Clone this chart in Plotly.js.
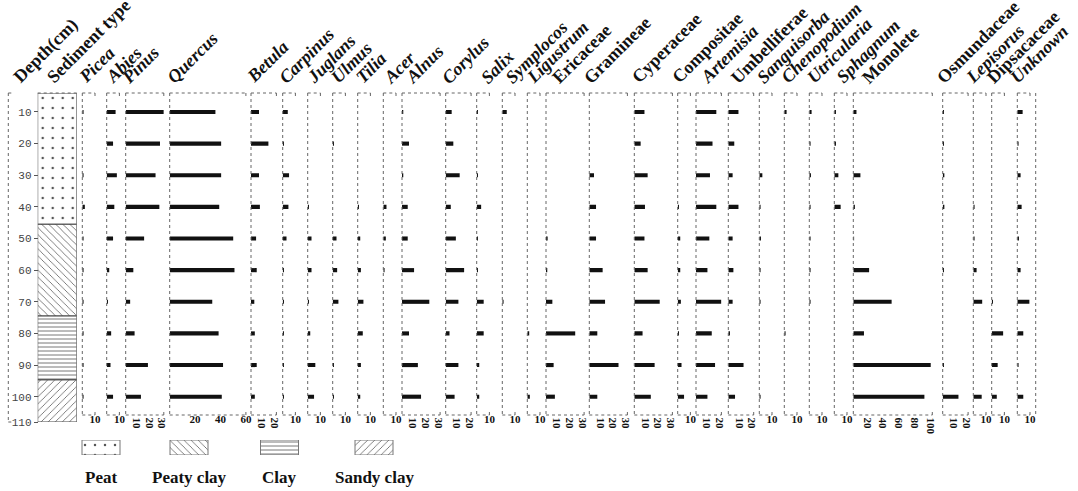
<!DOCTYPE html>
<html>
<head>
<meta charset="utf-8">
<script src="https://cdn.plot.ly/plotly-3.0.1.min.js"></script>
<style>html,body{margin:0;padding:0;background:#fff;}#chart{width:1078px;height:491px;}</style>
</head>
<body>
<div id="chart"></div>
<script>
// ---------------- DATA ----------------
const depths = [10, 20, 30, 40, 50, 60, 70, 80, 90, 100];
const depthTickVals = [10, 20, 30, 40, 50, 60, 70, 80, 90, 100, 108];
const depthTickText = ["10", "20", "30", "40", "50", "60", "70", "80", "90", "100", "110"];

const taxa = ["Picea", "Abies", "Pinus", "Quercus", "Betula", "Carpinus", "Juglans", "Ulmus", "Tilia", "Acer",
  "Alnus", "Corylus", "Salix", "Symplocos", "Ligustrum", "Ericaceae", "Gramineae", "Cyperaceae", "Compositae",
  "Artemisia", "Umbelliferae", "Sanguisorba", "Chenopodium", "Utricularia", "Sphagnum", "Monolete",
  "Osmundaceae", "Lepisorus", "Dipsacaceae", "Unknown"];

const picea        = [1, 0, 1, 2, 1, 1, 1, 1, 1, 1];
const abies        = [7, 5, 8, 6, 5, 2, 1, 3.5, 3, 5];
const pinus        = [30, 27, 23.5, 26.5, 14.5, 6, 3.5, 7, 17.5, 12];
const quercus      = [36, 40.5, 40.5, 39, 50, 51, 33.5, 38.5, 42, 41];
const betula       = [6.3, 13.7, 6.3, 7, 4, 4.5, 2.6, 3, 4.5, 3];
const carpinus     = [4, 1, 5, 4.5, 3, 1, 1, 1, 1, 1];
const juglans      = [0, 0, 0, 1, 3, 3, 1, 2, 6, 5];
const ulmus        = [0, 1, 0, 0, 3, 3.5, 4.5, 0, 1, 1];
const tilia        = [0, 0, 0, 1, 2, 2.5, 4.5, 4, 2.5, 2];
const acer         = [0, 0, 0, 2.5, 2, 1, 0, 0, 0, 0];
const alnus        = [1, 5.5, 1, 4.5, 4.5, 9.5, 21.5, 5.5, 12.5, 15];
const corylus      = [4.7, 6, 11, 4, 8, 14.5, 10, 3, 10, 7];
const salix        = [1, 0, 1, 3.5, 1, 1, 5.5, 5.5, 2, 2];
const symplocos    = [3.5, 0, 0, 0, 0, 0, 1, 0, 0, 0];
const ligustrum    = [0, 0, 0, 0, 0, 0, 0, 1.5, 0, 2];
const ericaceae    = [0, 0, 0, 0, 1.3, 1, 5, 23, 6, 7];
const gramineae    = [0, 0, 3.7, 5.3, 5.3, 10.5, 12.4, 6.3, 23, 6.3];
const cyperaceae   = [8, 5, 10.5, 8.4, 8, 10.5, 20, 6.5, 16, 13];
const compositae   = [0, 0, 0, 1, 2, 2, 2.5, 1, 3, 5];
const artemisia    = [16, 13, 11, 16, 10.5, 9, 20, 12.4, 15, 9];
const umbelliferae = [8, 4.7, 3.4, 8, 3.4, 4, 3.4, 1.3, 12, 5.3];
const sanguisorba  = [0, 0, 2.4, 1, 1.3, 1, 1, 0, 0, 1];
const chenopodium  = [1.8, 0, 0, 0, 0, 0, 0, 1, 0, 0];
const utricularia  = [1.8, 1, 1.3, 1, 1, 1, 1, 0, 0, 0];
const sphagnum     = [1.3, 1.3, 3.2, 5, 0, 0, 0, 0, 0, 0];
const monolete     = [4, 0, 9, 2, 1, 20, 48.5, 13.5, 98, 90];
const osmundaceae  = [1, 1, 1.3, 1.3, 0, 1, 0, 0, 1, 12.4];
const lepisorus    = [0, 0, 0, 1, 1, 2.6, 7, 0, 0, 6.6];
const dipsacaceae  = [0, 0, 0, 0, 0, 0, 1, 9, 4.7, 4];
const unknown      = [4.2, 1, 2.6, 3.4, 1.3, 2.6, 9.5, 4.7, 1, 4.7];

const series = [picea, abies, pinus, quercus, betula, carpinus, juglans, ulmus, tilia, acer,
  alnus, corylus, salix, symplocos, ligustrum, ericaceae, gramineae, cyperaceae, compositae,
  artemisia, umbelliferae, sanguisorba, chenopodium, utricularia, sphagnum, monolete,
  osmundaceae, lepisorus, dipsacaceae, unknown];

const scaleMax = [10, 10, 30, 60, 20, 10, 10, 10, 10, 10, 30, 20, 10, 10, 10, 30, 30, 30, 10, 20, 20, 10, 10, 10, 10, 100, 20, 10, 10, 10];
const tickSets = {10: [10], 20: [10, 20], 30: [10, 20, 30], 60: [20, 40, 60], 100: [20, 40, 60, 80, 100]};

const sedimentTypes  = ["Peat", "Peaty clay", "Clay", "Sandy clay"];
const sedimentTop    = [4, 45.5, 74.5, 94.7];
const sedimentBottom = [45.5, 74.5, 94.7, 108];

// ---------------- LAYOUT (positions / styles) ----------------
const W = 1078, H = 491;
const px = x => x / W;
const py = y => 1 - y / H;
const TOP = 93, PBOT = 415, SBOT = 422;
const panelLeft = [82.3, 106.7, 125.7, 169.7, 251, 282.7, 307.7, 332.7, 357.7, 383.3, 402, 445.7, 476.7, 502.3, 527.3,
  546, 589.3, 634.3, 677.7, 696, 728.3, 759.3, 784.3, 809.3, 834.3, 853.3, 942.7, 973.3, 991.7, 1017.3];
const panelScale = i => (taxa[i] === "Monolete" ? 0.79 : 1.27);
const titleStart = [85, 112, 128, 173, 253, 285, 313, 337, 362, 390, 412, 448, 487, 512, 533, 558, 590, 638, 678,
  707, 737, 763, 787, 813, 843, 868, 943, 972, 993, 1017];
const upright = ["Ericaceae", "Gramineae", "Cyperaceae", "Compositae", "Umbelliferae", "Monolete", "Osmundaceae", "Dipsacaceae"];
const SERIF = "Liberation Serif, Times New Roman, serif";
const lineCol = "#666";
const TITLE_SIZE = 18;

const layout = {
  width: W, height: H,
  margin: {l: 0, r: 0, t: 0, b: 0},
  paper_bgcolor: "#fff", plot_bgcolor: "rgba(0,0,0,0)",
  showlegend: false, barmode: "overlay",
  font: {family: SERIF, color: "#111"},
  annotations: [],
  yaxis: {
    domain: [py(SBOT), py(TOP)], range: [108, 4], anchor: "free", position: px(37.7), side: "left",
    tickvals: depthTickVals, ticktext: depthTickText, ticks: "outside", ticklen: 4, tickcolor: "#555",
    tickfont: {family: "Liberation Mono, DejaVu Sans Mono, monospace", size: 11, color: "#444"},
    showgrid: false, zeroline: false, showline: false
  },
  yaxis2: {domain: [py(455), py(440)], range: [0, 1], visible: false, anchor: "free", position: 0},
  // full-page overlay in pixel units, used only for the dotted panel frames
  xaxis33: {domain: [0, 1], range: [0, W], visible: false, anchor: "y3", fixedrange: true},
  yaxis3: {domain: [0, 1], range: [H, 0], visible: false, anchor: "x33", fixedrange: true}
};

const frameX = [], frameY = [];
const seg = (x0, y0, x1, y1) => { frameX.push(x0, x1, null); frameY.push(y0, y1, null); };

const traces = [];
taxa.forEach((name, i) => {
  const k = i + 1;
  const axName = k === 1 ? "xaxis" : "xaxis" + k;
  const ref = k === 1 ? "x" : "x" + k;
  const left = panelLeft[i];
  const right = left + scaleMax[i] * panelScale(i);
  const ticks = tickSets[scaleMax[i]];
  layout[axName] = {
    domain: [px(left), px(right)], range: [0, scaleMax[i]], anchor: "free", position: py(PBOT - 4),
    tickvals: ticks, ticktext: ticks.map(String), ticks: "",
    tickfont: {family: SERIF, size: 11, color: "#111", weight: "bold"},
    showgrid: false, zeroline: false, showline: false, fixedrange: true
  };
  traces.push({type: "bar", orientation: "h", x: series[i], y: depths, xaxis: ref, yaxis: "y",
    width: 1.3, marker: {color: "#111", line: {width: 0}}, hoverinfo: "x+y"});
  seg(left, TOP, left, PBOT);
  seg(left, TOP, right, TOP);
  seg(right, TOP, right, TOP + 3);
  seg(left, PBOT, right, PBOT);
  seg(right, PBOT, right, PBOT - 3);
  layout.annotations.push({
    xref: "paper", yref: "paper", x: px(titleStart[i] - 13), y: py(90), xanchor: "left", yanchor: "bottom",
    text: name, showarrow: false, textangle: -45,
    font: {family: SERIF, size: TITLE_SIZE, color: "#111", weight: "bold", style: upright.includes(name) ? "normal" : "italic"}
  });
});
seg(1035.7, TOP, 1035.7, PBOT);
// depth axis bracket and sediment column top
seg(8.3, TOP, 8.3, SBOT);
seg(8.3, TOP, 13, TOP);
seg(8.3, SBOT, 13, SBOT);
seg(37.7, TOP, 76.7, TOP);

traces.unshift({type: "scatter", mode: "lines", x: frameX, y: frameY, xaxis: "x33", yaxis: "y3",
  line: {color: lineCol, width: 1, dash: "dot"}, hoverinfo: "skip", connectgaps: false});

// column titles
[["Depth(cm)", 20], ["Sediment type", 53]].forEach(([t, x]) => layout.annotations.push({
  xref: "paper", yref: "paper", x: px(x - 13), y: py(90), xanchor: "left", yanchor: "bottom",
  text: t, showarrow: false, textangle: -45, font: {family: SERIF, size: TITLE_SIZE, color: "#111", weight: "bold"}
}));

// sediment column
const sedPatterns = [".", "\\", "-", "/"];
const sedPattern = {shape: sedPatterns, fgcolor: "#555", bgcolor: "#fff", size: [10, 5, 4, 5], solidity: [0.05, 0.15, 0.2, 0.15]};
layout.xaxis31 = {domain: [px(37.7), px(76.7)], range: [-0.5, 0.5], visible: false, anchor: "y", fixedrange: true};
traces.push({type: "bar", orientation: "v", x: sedimentTypes.map(() => 0), y: sedimentTop.map((t, j) => sedimentBottom[j] - t),
  base: sedimentTop, width: 1, xaxis: "x31", yaxis: "y", text: sedimentTypes, hoverinfo: "text", textposition: "none",
  marker: {color: "#fff", line: {color: "#444", width: 1}, pattern: sedPattern}});

// legend boxes
const legendCenter = [101, 189, 279.5, 374];
layout.xaxis32 = {domain: [0, 1], range: [0, W], visible: false, anchor: "y2", fixedrange: true};
traces.push({type: "bar", orientation: "v", x: legendCenter, y: sedimentTypes.map(() => 1), base: 0, width: 38,
  xaxis: "x32", yaxis: "y2", text: sedimentTypes, hoverinfo: "text", textposition: "none",
  marker: {color: "#fff", line: {color: "#777", width: 1}, pattern: sedPattern}});
sedimentTypes.forEach((t, j) => layout.annotations.push({
  xref: "paper", yref: "paper", x: px(legendCenter[j]), y: py(477), xanchor: "center", yanchor: "middle",
  text: t, showarrow: false, font: {family: SERIF, size: 17, color: "#111", weight: "bold"}
}));

Plotly.newPlot("chart", traces, layout, {displayModeBar: false, staticPlot: true});
</script>
</body>
</html>
